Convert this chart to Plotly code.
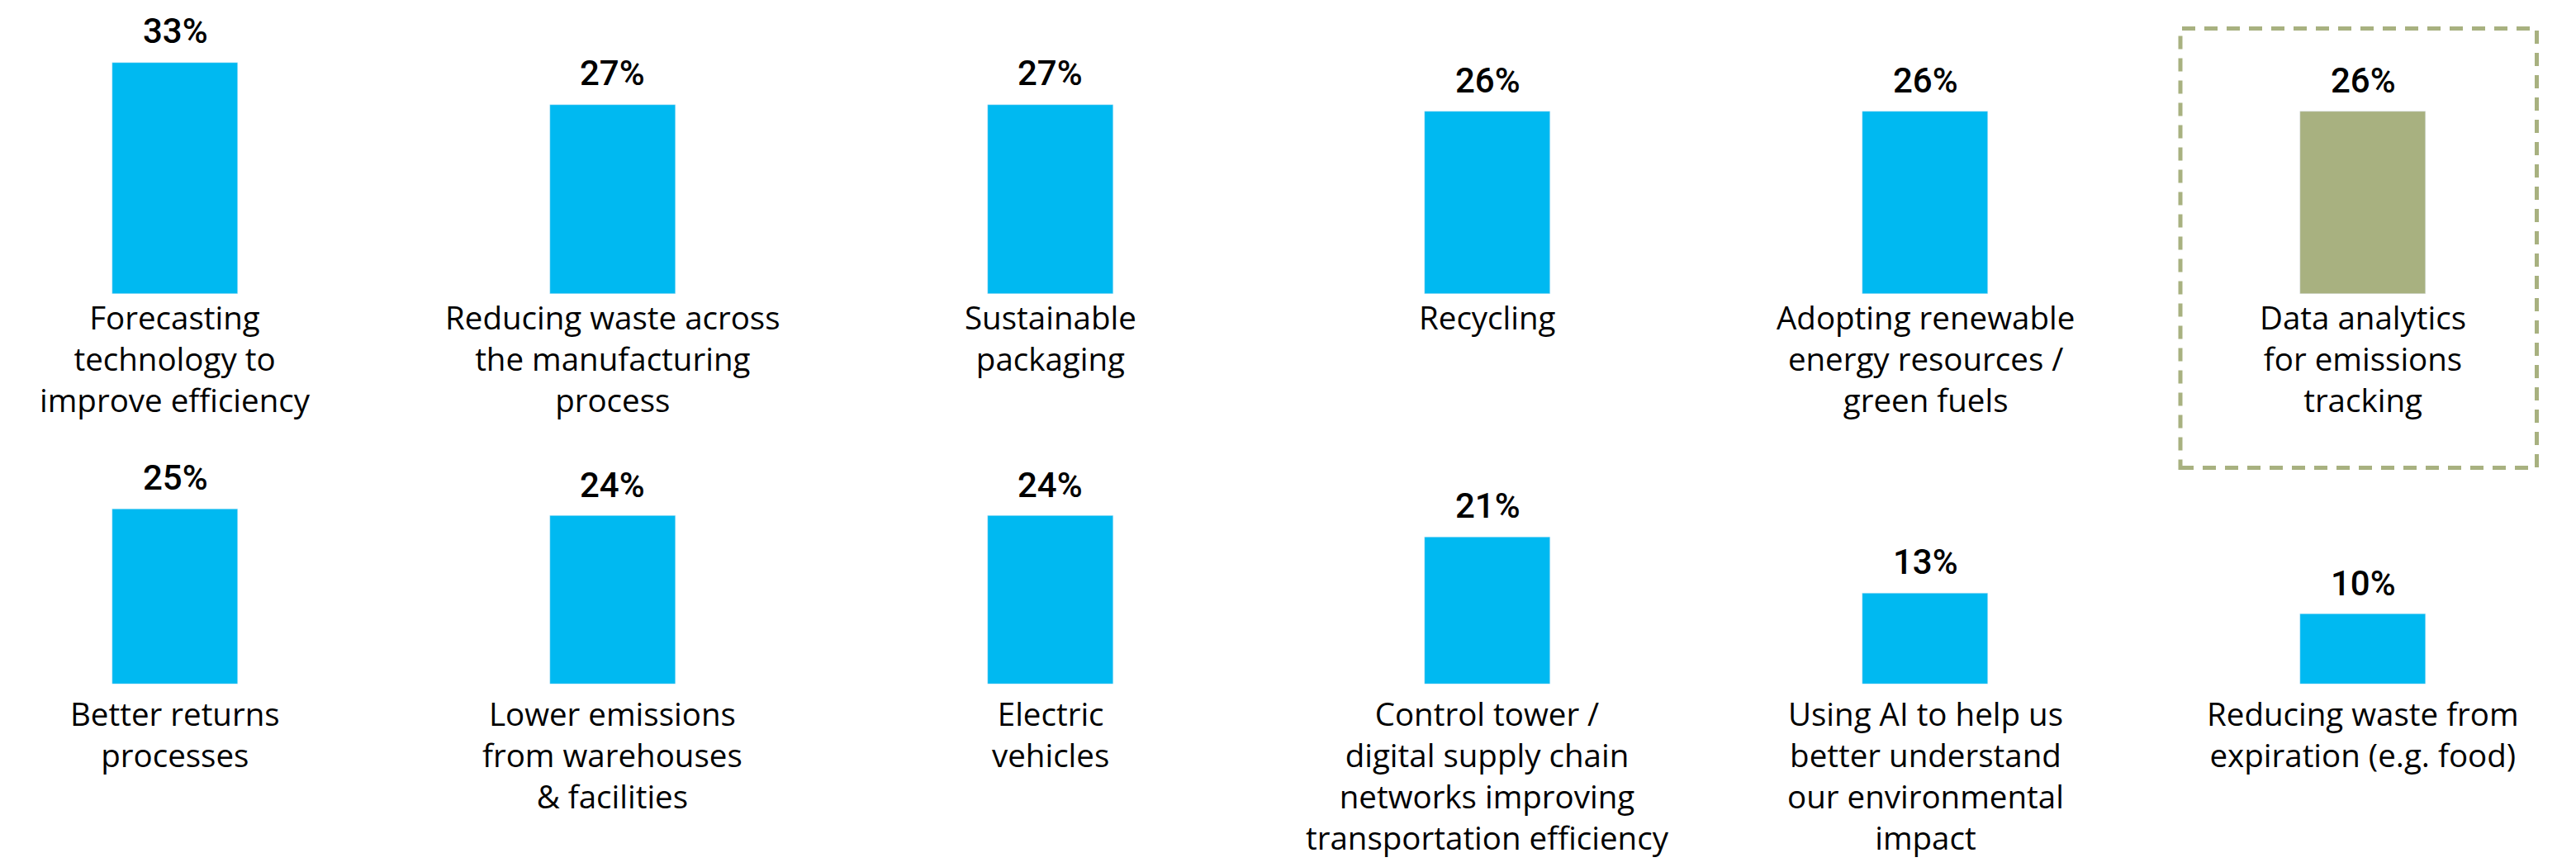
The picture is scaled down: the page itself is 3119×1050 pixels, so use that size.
import plotly.graph_objects as go

# ---- data ----
top_labels = [
    "Forecasting<br>technology to<br>improve efficiency",
    "Reducing waste across<br>the manufacturing<br>process",
    "Sustainable<br>packaging",
    "Recycling",
    "Adopting renewable<br>energy resources /<br>green fuels",
    "Data analytics<br>for emissions<br>tracking",
]
top_values = [33, 27, 27, 26, 26, 26]

bottom_labels = [
    "Better returns<br>processes",
    "Lower emissions<br>from warehouses<br>& facilities",
    "Electric<br>vehicles",
    "Control tower /<br>digital supply chain<br>networks improving<br>transportation efficiency",
    "Using AI to help us<br>better understand<br>our environmental<br>impact",
    "Reducing waste from<br>expiration (e.g. food)",
]
bottom_values = [25, 24, 24, 21, 13, 10]

positions = [0, 1, 2, 3, 4, 5]
highlight_index = 5  # top row "Data analytics" highlighted

# ---- styles ----
BLUE = "#00B9F1"
GREEN = "#A8B180"
PAGE_W, PAGE_H = 3119, 1050
OFF = 8  # default body margin of the html page
W, H = PAGE_W - 2 * OFF, PAGE_H - 2 * OFF
LABEL_FONT = "Open Sans"
VALUE_FONT = "Roboto"
LABEL_SIZE = 38.5
VALUE_SIZE = 42

top_colors = [GREEN if i == highlight_index else BLUE for i in positions]
bottom_colors = [BLUE for _ in positions]

fig = go.Figure()
fig.add_trace(go.Bar(x=positions, y=top_values, marker_color=top_colors,
                     width=0.287, xaxis="x", yaxis="y", hoverinfo="skip"))
fig.add_trace(go.Bar(x=positions, y=bottom_values, marker_color=bottom_colors,
                     width=0.287, xaxis="x2", yaxis="y2", hoverinfo="skip"))

annotations = []
for labels, values, ax, ay, lab_shift, val_shift in [
    (top_labels, top_values, "x", "y", 0, 11),
    (bottom_labels, bottom_values, "x2", "y2", -7, 11),
]:
    for i, (lab, v) in enumerate(zip(labels, values)):
        annotations.append(dict(
            x=positions[i], y=v, xref=ax, yref=ay, text=f"{v}%",
            showarrow=False, yanchor="bottom", yshift=val_shift,
            font=dict(family=VALUE_FONT, size=VALUE_SIZE, color="#000000", weight=500),
        ))
        annotations.append(dict(
            x=positions[i], y=0, xref=ax, yref=ay, text=lab,
            showarrow=False, yanchor="top", yshift=lab_shift, align="center",
            font=dict(family=LABEL_FONT, size=LABEL_SIZE, color="#000000"),
        ))

px_per_unit = 529.8
first_center = 212 - OFF
x0 = -first_center / px_per_unit
x1 = (W - first_center) / px_per_unit
yr = [0, 40]
ypx = 8.5 * 40

top_base = (H - (356 - OFF)) / H
bot_base = (H - (828.5 - OFF)) / H

fig.update_layout(
    width=W, height=H,
    margin=dict(l=0, r=0, t=0, b=0),
    paper_bgcolor="white", plot_bgcolor="white",
    showlegend=False,
    bargap=0,
    xaxis=dict(range=[x0, x1], domain=[0, 1], anchor="y", visible=False, fixedrange=True),
    xaxis2=dict(range=[x0, x1], domain=[0, 1], anchor="y2", visible=False, fixedrange=True),
    yaxis=dict(range=yr, domain=[top_base, top_base + ypx / H], anchor="x", visible=False, fixedrange=True),
    yaxis2=dict(range=yr, domain=[bot_base, bot_base + ypx / H], anchor="x2", visible=False, fixedrange=True),
    annotations=annotations,
    shapes=[dict(
        type="rect", xref="paper", yref="paper",
        x0=(2640 - OFF) / W, x1=(3071.5 - OFF) / W,
        y0=1 - (566.5 - OFF) / H, y1=1 - (34.5 - OFF) / H,
        line=dict(color=GREEN, width=5, dash="16px,11px"),
        fillcolor="rgba(0,0,0,0)",
    )],
)

fig.write_html("out.html", config={"displayModeBar": False})
